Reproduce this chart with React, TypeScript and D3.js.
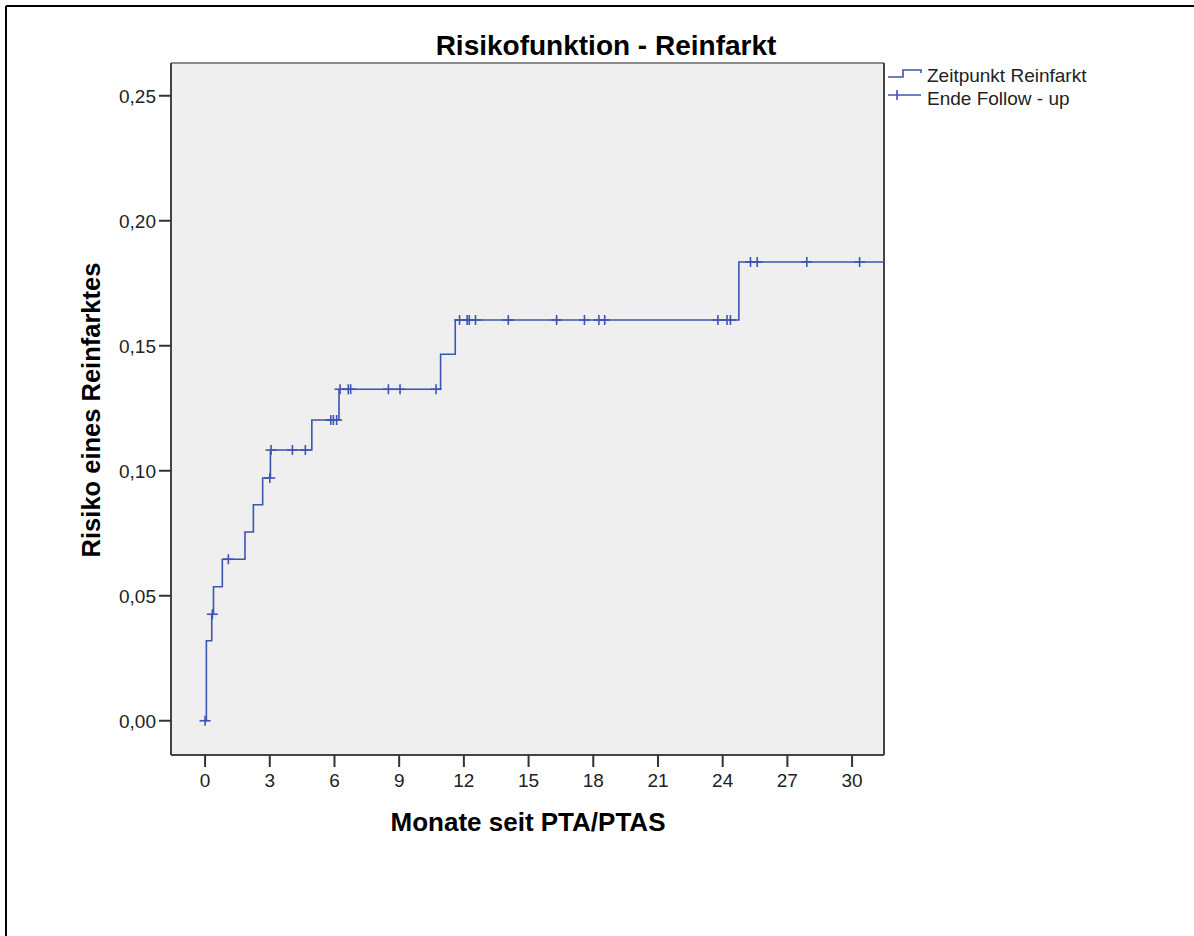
import React from "react";
import * as d3 from "d3";

// Step function of cumulative risk: time of step (months) and risk after the step
const stepTimes = [0.06, 0.31, 0.39, 0.8, 1.85, 2.24, 2.67, 3.03, 4.95, 6.21, 10.92, 11.6, 24.75];
const stepRisks = [0.032, 0.0426, 0.0536, 0.0646, 0.0755, 0.0864, 0.0971, 0.1083, 0.1203, 0.1326, 0.1466, 0.1603, 0.1835];

// Censored observations (end of follow-up), months
const censorTimes = [
  0, 0.34, 1.08, 3.0, 3.06, 4.05, 4.65, 5.83, 5.95, 6.1, 6.26, 6.64, 6.75, 8.5, 9.04, 10.71,
  11.8, 12.15, 12.25, 12.54, 14.06, 16.3, 17.59, 18.26, 18.53, 23.78, 24.2, 24.36, 25.29, 25.6,
  27.9, 30.35,
];

const xTicks = [0, 3, 6, 9, 12, 15, 18, 21, 24, 27, 30];
const yTicks = [0, 0.05, 0.1, 0.15, 0.2, 0.25];

const title = "Risikofunktion - Reinfarkt";
const xLabel = "Monate seit PTA/PTAS";
const yLabel = "Risiko eines Reinfarktes";
const legendLabels = ["Zeitpunkt Reinfarkt", "Ende Follow - up"];

const W = 1194;
const H = 936;
const plot = { left: 171, right: 884, top: 63, bottom: 755 };
const xDomain = [-1.58, 31.48];
const yDomain = [-0.0137, 0.2631];
const lineColor = "#3c55b1";
const font = "'Liberation Sans', Arial, sans-serif";

function riskAt(t: number): number {
  let r = 0;
  for (let i = 0; i < stepTimes.length; i++) {
    if (stepTimes[i] <= t) r = stepRisks[i];
  }
  return r;
}

export default function App() {
  const x = d3.scaleLinear().domain(xDomain).range([plot.left, plot.right]);
  const y = d3.scaleLinear().domain(yDomain).range([plot.bottom, plot.top]);

  const pts: [number, number][] = [[0, 0]];
  stepTimes.forEach((t, i) => pts.push([t, stepRisks[i]]));
  pts.push([xDomain[1] + 1, stepRisks[stepRisks.length - 1]]);
  const line = d3
    .line<[number, number]>()
    .x((d) => x(d[0]))
    .y((d) => y(d[1]))
    .curve(d3.curveStepAfter);

  const ticks = d3.format(".2f");
  const fmtY = (v: number) => ticks(v).replace(".", ",");

  const lx = 888;
  const ly1 = 77;
  const ly2 = 95;

  return (
    <svg
      width={W}
      height={H}
      style={{ position: "absolute", left: 0, top: 0, background: "#fff" }}
      fontFamily={font}
    >
      <defs>
        <clipPath id="plotclip">
          <rect x={plot.left} y={plot.top} width={plot.right - plot.left} height={plot.bottom - plot.top} />
        </clipPath>
      </defs>
      {/* outer frame */}
      <line x1={6} y1={6} x2={W} y2={6} stroke="#000" strokeWidth={2} />
      <line x1={6} y1={6} x2={6} y2={H} stroke="#000" strokeWidth={2} />

      {/* plot background */}
      <rect
        x={plot.left}
        y={plot.top}
        width={plot.right - plot.left}
        height={plot.bottom - plot.top}
        fill="#efefef"
      />
      <line x1={plot.left} y1={plot.top} x2={plot.right} y2={plot.top} stroke="#8a8a8a" strokeWidth={2} />
      <line x1={plot.left} y1={plot.top} x2={plot.left} y2={plot.bottom} stroke="#444" strokeWidth={2} />
      <line x1={plot.right} y1={plot.top} x2={plot.right} y2={plot.bottom} stroke="#444" strokeWidth={2} />
      <line x1={plot.left} y1={plot.bottom} x2={plot.right} y2={plot.bottom} stroke="#444" strokeWidth={2} />

      {/* y ticks */}
      {yTicks.map((v) => (
        <g key={"y" + v}>
          <line x1={plot.left - 12} x2={plot.left} y1={y(v)} y2={y(v)} stroke="#333" strokeWidth={2} />
          <text x={156} y={y(v) + 7} textAnchor="end" fontSize={19} fill="#222">
            {fmtY(v)}
          </text>
        </g>
      ))}
      {/* x ticks */}
      {xTicks.map((v) => (
        <g key={"x" + v}>
          <line x1={x(v)} x2={x(v)} y1={plot.bottom} y2={plot.bottom + 12} stroke="#333" strokeWidth={2} />
          <text x={x(v)} y={787} textAnchor="middle" fontSize={19} fill="#222">
            {v}
          </text>
        </g>
      ))}

      {/* step curve and censor marks */}
      <g clipPath="url(#plotclip)">
        <path d={line(pts) || ""} fill="none" stroke={lineColor} strokeWidth={1.6} />
        {censorTimes.map((t, i) => {
          const cx = x(t);
          const cy = y(riskAt(t));
          return (
            <g key={"c" + i} stroke={lineColor} strokeWidth={1.6}>
              <line x1={cx - 5.5} x2={cx + 5.5} y1={cy} y2={cy} />
              <line x1={cx} x2={cx} y1={cy - 5} y2={cy + 5} />
            </g>
          );
        })}
      </g>

      {/* title and axis labels */}
      <text x={606} y={55} textAnchor="middle" fontSize={28} fontWeight="bold" fill="#000">
        {title}
      </text>
      <text x={528} y={831} textAnchor="middle" fontSize={26} fontWeight="bold" fill="#000">
        {xLabel}
      </text>
      <text
        transform={`translate(100, 410) rotate(-90)`}
        textAnchor="middle"
        fontSize={25.5}
        fontWeight="bold"
        fill="#000"
      >
        {yLabel}
      </text>

      {/* legend */}
      <path
        d={`M${lx},${ly1} H${lx + 15} V${ly1 - 7} H${lx + 33} V${ly1 - 4}`}
        fill="none"
        stroke={lineColor}
        strokeWidth={1.6}
      />
      <text x={927} y={ly1 + 5} fontSize={19} fill="#222">
        {legendLabels[0]}
      </text>
      <line x1={lx} x2={lx + 33} y1={ly2} y2={ly2} stroke={lineColor} strokeWidth={1.6} />
      <line x1={lx + 9} x2={lx + 9} y1={ly2 - 5} y2={ly2 + 5} stroke={lineColor} strokeWidth={1.6} />
      <text x={927} y={ly2 + 10} fontSize={19} fill="#222">
        {legendLabels[1]}
      </text>
    </svg>
  );
}
